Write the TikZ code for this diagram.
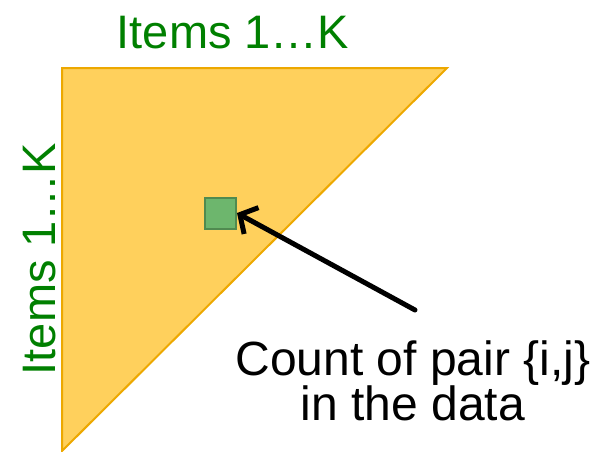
\documentclass[tikz,border=0pt]{standalone}
\usepackage{fontspec}
\setmainfont{Liberation Sans}
\usetikzlibrary{arrows.meta,positioning}
\definecolor{goldfill}{RGB}{255,208,92}
\definecolor{goldline}{RGB}{237,168,0}
\definecolor{pairfill}{RGB}{109,182,109}
\definecolor{pairline}{RGB}{80,138,80}
\definecolor{itemgreen}{RGB}{0,128,0}

\begin{document}
\begin{tikzpicture}[x=1pt,y=-1pt,
    itemlabel/.style={text=itemgreen,inner sep=0pt,font=\fontsize{47}{47}\selectfont},
    pairbox/.style={draw=pairline,fill=pairfill,line width=2pt,minimum size=31pt,inner sep=0pt},
    pointer/.style={-{Straight Barb[length=13pt,width=30pt]},line width=5pt,line cap=round}]
        \useasboundingbox (0,0) rectangle (597,451);
        % Define coordinates
        \coordinate (A) at (62,68);
        \coordinate (B) at (447,68);
        \coordinate (C) at (62,451);
        % Upper triangle of the count matrix
        \filldraw[fill=goldfill,draw=goldline,line width=2pt,line join=miter] (A) -- (B) -- (C) -- cycle;
        % Item labels
        \node[itemlabel,anchor=base] (top) at (233,48) {Items 1…K};
        \node[itemlabel,anchor=base,rotate=90] (side) at (55,259) {Items 1…K};
        % One cell of the matrix
        \node[pairbox] (pair) at (220.5,213) {};
        % Explanation
        \node[inner sep=0pt,anchor=base,align=center,font=\fontsize{48}{45}\selectfont] (count) at (413,420) {Count of pair \{i,j\}\\in the data};
        \coordinate (tail) at (415,310);
        \draw[pointer] (tail) -- (pair.east);
      \end{tikzpicture}
\end{document}
